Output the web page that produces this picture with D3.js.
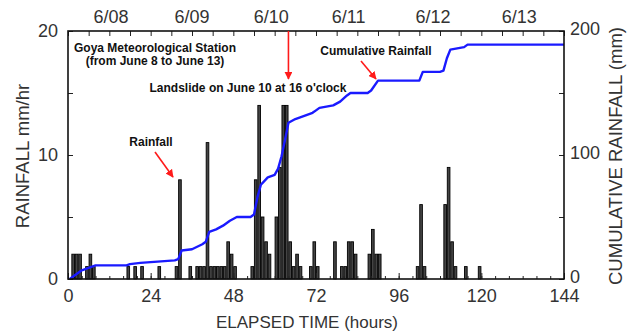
<!DOCTYPE html>
<html>
<head>
  <meta charset="UTF-8">
  <style>
    body { margin: 0; background: #fff; }
    text { font-family: "Liberation Sans", Arial, sans-serif; }
  </style>
</head>
<body>
<svg></svg>
<script src="https://d3js.org/d3.v7.min.js"></script>
<script>

let width = 631, height = 334;

// hourly rainfall (mm/hr), bar for hour h spans [h, h+1]
const rainHours  = [1, 2, 3, 5, 6, 7, 17, 19, 21, 26, 31, 32, 35, 37, 38, 39, 40, 41, 42, 43, 44, 45, 46, 47, 48, 53, 54, 55, 56, 57, 58, 60, 61, 62, 63, 64, 65, 66, 67, 70, 71, 72, 77, 79, 80, 81, 82, 83, 87, 88, 89, 90, 101, 102, 103, 109, 110, 111, 112, 115, 119];
const rainValues = [2, 2, 2, 1, 2, 1, 1, 1, 1, 1, 1, 8, 1, 1, 1, 1, 11, 1, 1, 1, 1, 1, 3, 2, 1, 1, 8, 14, 5, 3, 2, 5, 9, 14, 14, 3, 1, 2, 1, 1, 3, 1, 3, 1, 1, 3, 3, 2, 2, 4, 2, 2, 1, 6, 1, 6, 9, 3, 1, 1, 1];

// cumulative rainfall (mm)
const cumHours  = [0.5, 1, 3, 4, 7, 8, 17, 18, 21, 26, 31, 32, 33, 36, 39, 40, 41, 43, 45, 47, 49, 53, 54, 55, 56, 58, 60, 61, 62, 63, 64, 66, 69, 71, 72, 73, 77, 79, 81, 82, 83, 87, 88, 90, 102, 103, 108, 109, 110, 111, 115, 116, 144];
const cumValues = [0, 1, 5, 7, 10, 11, 11, 12, 13, 14, 15, 16, 23, 24, 28, 30, 38, 40, 43, 47, 50, 50, 52, 66, 76, 82, 84, 89, 99, 112, 126, 129, 132, 134, 136, 138, 140, 143, 148, 150, 150, 150, 152, 160, 160, 167, 167, 168, 178, 185, 187, 189, 189];

const xLabelTicks = [0, 24, 48, 72, 96, 120, 144];
const dayLabels = ["6/08", "6/09", "6/10", "6/11", "6/12", "6/13"];
const dayLabelHours = [12.5, 36, 59, 81.5, 106, 131];
const landslideHour = 64;

let svg = d3.select("svg")
    .attr("width", width)
    .attr("height", height)

let x = d3.scaleLinear().domain([0, 144]).range([68, 564]);
let yL = d3.scaleLinear().domain([0, 20]).range([279, 31]);
let yR = d3.scaleLinear().domain([0, 200]).range([279, 31]);

// bars
let barW = x(1) - x(0);
svg.append("g")
    .selectAll("rect")
    .data(rainHours)
    .enter()
    .append("rect")
    .attr("x", d => x(d) + 0.4)
    .attr("y", (d, i) => yL(rainValues[i]))
    .attr("width", barW - 0.8)
    .attr("height", (d, i) => yL(0) - yL(rainValues[i]))
    .attr("fill", "#444")
    .attr("stroke", "#000")
    .attr("stroke-width", 0.9)

// cumulative line
let line = d3.line()
    .x((d, i) => x(d))
    .y((d, i) => yR(cumValues[i]));

svg.append("path")
    .attr("d", line(cumHours))
    .attr("fill", "none")
    .attr("stroke", "#1a1aff")
    .attr("stroke-width", 2.4)
    .attr("stroke-linejoin", "round")

// axes (ticks point inward)
function clean(g) {
    g.select(".domain").remove();
    g.selectAll(".tick line").attr("stroke", "#222");
    g.selectAll("text")
        .attr("font-family", "Liberation Sans, Arial, sans-serif")
        .attr("font-size", 18)
        .attr("fill", "#333");
}

svg.append("g")
    .attr("transform", "translate(0,279)")
    .call(d3.axisBottom(x).tickValues(d3.range(0, 145, 4)).tickSize(-3).tickFormat(""))
    .call(clean)

svg.append("g")
    .attr("transform", "translate(0,279)")
    .call(d3.axisBottom(x).tickValues(xLabelTicks).tickSize(-6).tickPadding(10))
    .call(clean)

svg.append("g")
    .attr("transform", "translate(0,31)")
    .call(d3.axisTop(x).tickValues(d3.range(0, 145, 6)).tickSize(-5).tickFormat(""))
    .call(clean)

svg.append("g")
    .attr("transform", "translate(68,0)")
    .call(d3.axisLeft(yL).tickValues([0, 5, 10, 15, 20]).tickSize(-5).tickPadding(10)
        .tickFormat(d => d % 10 === 0 ? d : ""))
    .call(clean)

svg.append("g")
    .attr("transform", "translate(564,0)")
    .call(d3.axisRight(yR).tickValues([0, 50, 100, 150, 200]).tickSize(-5).tickPadding(6)
        .tickFormat(d => d % 100 === 0 ? d : ""))
    .call(clean)
    .selectAll("text").attr("dy", "0.22em")

// frame
svg.append("rect")
    .attr("x", 68).attr("y", 31)
    .attr("width", 564 - 68).attr("height", 279 - 31)
    .attr("fill", "none")
    .attr("stroke", "#111")
    .attr("stroke-width", 1.6)

// day labels on top
svg.append("g")
    .selectAll("text")
    .data(dayLabels)
    .enter()
    .append("text")
    .attr("x", (d, i) => x(dayLabelHours[i]))
    .attr("y", 23)
    .attr("text-anchor", "middle")
    .attr("font-size", 18)
    .attr("fill", "#333")
    .text(d => d)

// axis titles
svg.append("text")
    .attr("x", 307).attr("y", 328)
    .attr("text-anchor", "middle")
    .attr("font-size", 17)
    .attr("fill", "#333")
    .text("ELAPSED TIME (hours)")

svg.append("text")
    .attr("transform", "translate(29,156) rotate(-90)")
    .attr("text-anchor", "middle")
    .attr("font-size", 18.5)
    .attr("fill", "#333")
    .text("RAINFALL mm/hr")

svg.append("text")
    .attr("transform", "translate(622,156) rotate(-90)")
    .attr("text-anchor", "middle")
    .attr("font-size", 18.5)
    .attr("fill", "#333")
    .text("CUMULATIVE RAINFALL (mm)")

// annotations
svg.append("defs").append("marker")
    .attr("id", "head")
    .attr("viewBox", "0 0 10 10")
    .attr("refX", 9).attr("refY", 5)
    .attr("markerWidth", 5).attr("markerHeight", 5)
    .attr("orient", "auto")
    .append("path")
    .attr("d", "M0,0 L10,5 L0,10 z")
    .attr("fill", "#ff1a1a")

function note(txt, tx, ty) {
    svg.append("text")
        .attr("x", tx).attr("y", ty)
        .attr("text-anchor", "middle")
        .attr("font-size", 12)
        .attr("font-weight", "bold")
        .attr("fill", "#111")
        .text(txt)
}
function arrow(x1, y1, x2, y2) {
    svg.append("line")
        .attr("x1", x1).attr("y1", y1).attr("x2", x2).attr("y2", y2)
        .attr("stroke", "#ff1a1a")
        .attr("stroke-width", 1.6)
        .attr("marker-end", "url(#head)")
}

note("Goya Meteorological Station", 155, 52)
note("(from June 8 to June 13)", 155, 65)
note("Landslide on June 10 at 16 o'clock", 248, 92)
note("Cumulative Rainfall", 376, 55)
note("Rainfall", 151, 146)

arrow(x(landslideHour), 31, x(landslideHour), 79)
arrow(361, 61, 376, 79)
arrow(155, 152, 173, 177)

</script>
</body>
</html>
